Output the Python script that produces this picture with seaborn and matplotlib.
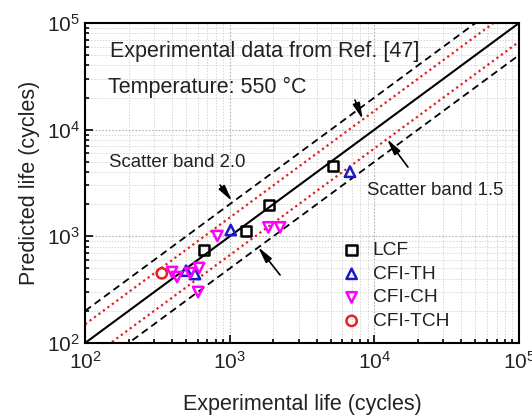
import numpy as np
import pandas as pd
import matplotlib
matplotlib.use("Agg")
import matplotlib.pyplot as plt
import seaborn as sns
from matplotlib.ticker import LogLocator, NullFormatter

sns.set_theme(style="white")
plt.rcParams['font.family'] = ['Liberation Sans', 'DejaVu Sans']
plt.rcParams['mathtext.fontset'] = 'custom'
plt.rcParams['mathtext.rm'] = 'Liberation Sans'
plt.rcParams['mathtext.it'] = 'Liberation Sans:italic'

# ---- data ----
lcf_exp = [5180, 1870, 1296, 664]
lcf_pred = [4560, 1965, 1121, 745]
th_exp = [6780, 1016, 499, 575]
th_pred = [4030, 1146, 476, 443]
ch_exp = [1849, 2228, 821, 399, 432, 532, 614, 604]
ch_pred = [1214, 1214, 1007, 463, 415, 453, 505, 301]
tch_exp = [339]
tch_pred = [450]

groups = ["LCF", "CFI-TH", "CFI-CH", "CFI-TCH"]
colors = {"LCF": "black", "CFI-TH": "#1a1acc", "CFI-CH": "#ff00ff", "CFI-TCH": "#e82020"}
markers = {"LCF": "s", "CFI-TH": "^", "CFI-CH": "v", "CFI-TCH": "o"}

ref_x = [1e2, 1e5]
band_15 = 1.5
band_20 = 2.0

df = pd.DataFrame({
    "exp": lcf_exp + th_exp + ch_exp + tch_exp,
    "pred": lcf_pred + th_pred + ch_pred + tch_pred,
    "type": ["LCF"] * len(lcf_exp) + ["CFI-TH"] * len(th_exp)
            + ["CFI-CH"] * len(ch_exp) + ["CFI-TCH"] * len(tch_exp),
})

fig = plt.figure(figsize=(5.32, 4.17), dpi=100)
ax = fig.add_axes([0.160, 0.1775, 0.8156, 0.7673])
ax.set_xscale("log")
ax.set_yscale("log")

rx = np.array(ref_x)
ax.plot(rx, rx, color="black", lw=1.5, zorder=2)
ax.plot(rx, rx * band_15, color="#e02020", lw=1.6, ls=(0, (1, 1.5)), zorder=2)
ax.plot(rx, rx / band_15, color="#e02020", lw=1.6, ls=(0, (1, 1.5)), zorder=2)
ax.plot(rx, rx * band_20, color="black", lw=1.3, ls=(0, (4, 2.5)), zorder=2)
ax.plot(rx, rx / band_20, color="black", lw=1.3, ls=(0, (4, 2.5)), zorder=2)

for g in groups:
    sub = df[df["type"] == g]
    sns.scatterplot(data=sub, x="exp", y="pred", ax=ax, marker=markers[g],
                    s=55, facecolors="none", edgecolor=colors[g], linewidth=1.8,
                    label=g, zorder=3)

ax.set_xlim(1e2, 1e5)
ax.set_ylim(1e2, 1e5)

ax.grid(True, which="major", color="#b4b4b4", ls=(0, (1.5, 1.5)), lw=0.8)
ax.grid(True, which="minor", color="#d6d6d6", ls=(0, (1.5, 1.5)), lw=0.7)
ax.set_axisbelow(True)

for sp in ax.spines.values():
    sp.set_color("black")
    sp.set_linewidth(1.5)

ax.tick_params(which="both", direction="in", bottom=True, left=True, top=False, right=False,
               colors="black", labelsize=15, width=1.2)
ax.tick_params(which="major", length=6)
ax.tick_params(which="minor", length=3)
ax.tick_params(axis="x", which="major", pad=6)
ax.xaxis.set_minor_locator(LogLocator(base=10, subs=np.arange(2, 10)))
ax.yaxis.set_minor_locator(LogLocator(base=10, subs=np.arange(2, 10)))
ax.xaxis.set_minor_formatter(NullFormatter())
ax.yaxis.set_minor_formatter(NullFormatter())
for lab in ax.get_xticklabels() + ax.get_yticklabels():
    lab.set_color("#222222")

ax.set_xlabel("Experimental life (cycles)", fontsize=15.5, color="#222222", labelpad=15)
ax.set_ylabel("Predicted life (cycles)", fontsize=15.5, color="#222222", labelpad=5)

ax.text(0.058, 0.91, "Experimental data from Ref. [47]", transform=ax.transAxes,
        fontsize=15.5, va="center", ha="left", color="#222222")
ax.text(0.053, 0.80, "Temperature: 550 °C", transform=ax.transAxes,
        fontsize=15.5, va="center", ha="left", color="#222222")
ax.text(0.055, 0.565, "Scatter band 2.0", transform=ax.transAxes,
        fontsize=13.4, va="center", ha="left", color="#222222")
ax.text(0.65, 0.475, "Scatter band 1.5", transform=ax.transAxes,
        fontsize=13.4, va="center", ha="left", color="#222222")

aprops = dict(arrowstyle="-|>,head_length=0.8,head_width=0.18", color="black", lw=1.2,
              shrinkA=0, shrinkB=0)
ax.annotate("", xy=(8300, 12500), xytext=(7345, 18940), arrowprops=aprops)
ax.annotate("", xy=(12220, 8170), xytext=(17060, 4460), arrowprops=aprops)
ax.annotate("", xy=(1037, 2140), xytext=(857, 3027), arrowprops=aprops)
ax.annotate("", xy=(1570, 794), xytext=(2228, 434), arrowprops=aprops)

leg = ax.legend(loc="upper left", bbox_to_anchor=(0.57, 0.34), frameon=False,
                fontsize=13.8, handletextpad=0.5, labelspacing=0.32, borderaxespad=0,
                handlelength=1.2)
for t in leg.get_texts():
    t.set_color("#222222")

fig.savefig("out.png", dpi=100)
